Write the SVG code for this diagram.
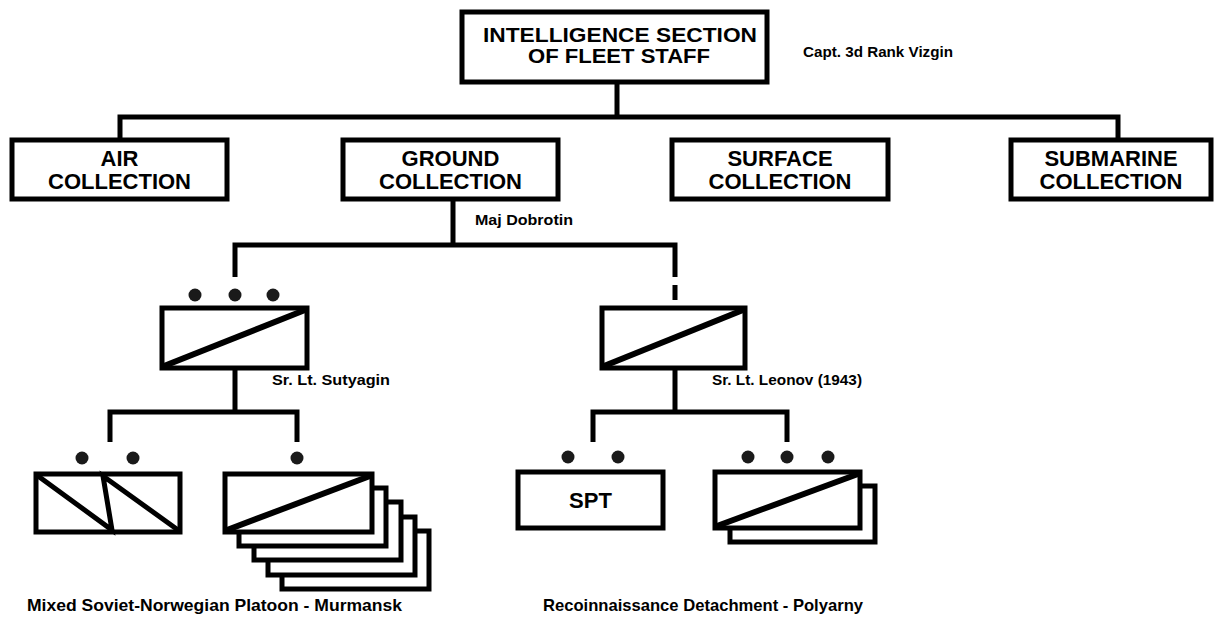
<svg xmlns="http://www.w3.org/2000/svg" width="1215" height="618" viewBox="0 0 1215 618">
<style>
.box{fill:#fff;stroke:#000;stroke-width:5}
.ln{fill:none;stroke:#000;stroke-width:5}
.diag{stroke:#000;stroke-width:6;stroke-linecap:butt}
.dot{fill:#1a1a1a}
.t{font-family:"Liberation Sans",Arial,sans-serif;font-weight:bold;fill:#000}
.big{font-size:21px;text-anchor:middle}
.col{font-size:22px;text-anchor:middle}
.sm{font-size:14px}
.lab{font-size:17px}
</style>
<rect width="1215" height="618" fill="#fff"/>
<g id="connectors">
<path class="ln" d="M617,82V117M120,140V117H1118V140M453,199V245M235,277V245H675V277M675,285V300"/>
<path class="ln" d="M235,368V412M110,442V412H297V442"/>
<path class="ln" d="M675,368V412M593,442V412H787V442"/>
</g>
<g id="intel">
<rect class="box" x="462" y="12" width="305" height="70"/>
<text class="t big" x="620" y="42" textLength="274" lengthAdjust="spacingAndGlyphs">INTELLIGENCE SECTION</text>
<text class="t big" x="619" y="63" textLength="182" lengthAdjust="spacingAndGlyphs">OF FLEET STAFF</text>
</g>
<g id="capt"><text class="t sm" x="803" y="57" textLength="150" lengthAdjust="spacingAndGlyphs">Capt. 3d Rank Vizgin</text></g>
<g id="air">
<rect class="box" x="12" y="140" width="215" height="59"/>
<text class="t col" x="119.5" y="166">AIR</text>
<text class="t col" x="119.5" y="189">COLLECTION</text>
</g>
<g id="ground">
<rect class="box" x="343" y="140" width="215" height="59"/>
<text class="t col" x="450.5" y="166">GROUND</text>
<text class="t col" x="450.5" y="189">COLLECTION</text>
</g>
<g id="surface">
<rect class="box" x="672" y="140" width="216" height="59"/>
<text class="t col" x="780" y="166">SURFACE</text>
<text class="t col" x="780" y="189">COLLECTION</text>
</g>
<g id="submarine">
<rect class="box" x="1011" y="140" width="200" height="59"/>
<text class="t col" x="1111" y="166">SUBMARINE</text>
<text class="t col" x="1111" y="189">COLLECTION</text>
</g>
<g id="dobrotin"><text class="t sm" x="475" y="225" textLength="98" lengthAdjust="spacingAndGlyphs">Maj Dobrotin</text></g>
<g id="company-left">
<circle class="dot" cx="195" cy="295" r="6.5"/><circle class="dot" cx="235" cy="295" r="6.5"/><circle class="dot" cx="273" cy="295" r="6.5"/>
<rect class="box" x="162" y="308" width="145" height="60"/>
<line class="diag" x1="164" y1="366" x2="305" y2="310"/>
</g>
<g id="sutyagin"><text class="t sm" x="272" y="385" textLength="118" lengthAdjust="spacingAndGlyphs">Sr. Lt. Sutyagin</text></g>
<g id="company-right">
<rect class="box" x="602" y="308" width="143" height="60"/>
<line class="diag" x1="604" y1="366" x2="743" y2="310"/>
</g>
<g id="leonov"><text class="t sm" x="712" y="385" textLength="150" lengthAdjust="spacingAndGlyphs">Sr. Lt. Leonov (1943)</text></g>
<g id="unit-a">
<circle class="dot" cx="82" cy="458" r="6.5"/><circle class="dot" cx="133" cy="458" r="6.5"/>
<rect class="box" x="36" y="474" width="144" height="58"/>
<polyline class="ln" points="38,476 112,530 103,476 178,530"/>
</g>
<g id="unit-b">
<circle class="dot" cx="297" cy="458" r="6.5"/>
<rect class="box" x="282" y="531" width="147" height="58"/>
<rect class="box" x="268" y="517" width="147" height="58"/>
<rect class="box" x="254" y="502" width="147" height="58"/>
<rect class="box" x="239" y="488" width="147" height="58"/>
<rect class="box" x="225" y="474" width="147" height="58"/>
<line class="diag" x1="227" y1="530" x2="370" y2="476"/>
</g>
<g id="spt">
<circle class="dot" cx="568" cy="457" r="6.5"/><circle class="dot" cx="618" cy="457" r="6.5"/>
<rect class="box" x="518" y="472" width="145" height="56"/>
<text class="t col" x="590.5" y="508">SPT</text>
</g>
<g id="unit-c">
<circle class="dot" cx="748" cy="457" r="6.5"/><circle class="dot" cx="787" cy="457" r="6.5"/><circle class="dot" cx="828" cy="457" r="6.5"/>
<rect class="box" x="730" y="486" width="145" height="56"/>
<rect class="box" x="715" y="472" width="145" height="56"/>
<line class="diag" x1="717" y1="526" x2="858" y2="474"/>
</g>
<g id="label-left"><text class="t lab" x="27" y="611" textLength="375" lengthAdjust="spacingAndGlyphs">Mixed Soviet-Norwegian Platoon - Murmansk</text></g>
<g id="label-right"><text class="t lab" x="543" y="611" textLength="320" lengthAdjust="spacingAndGlyphs">Recoinnaissance Detachment - Polyarny</text></g>
</svg>
